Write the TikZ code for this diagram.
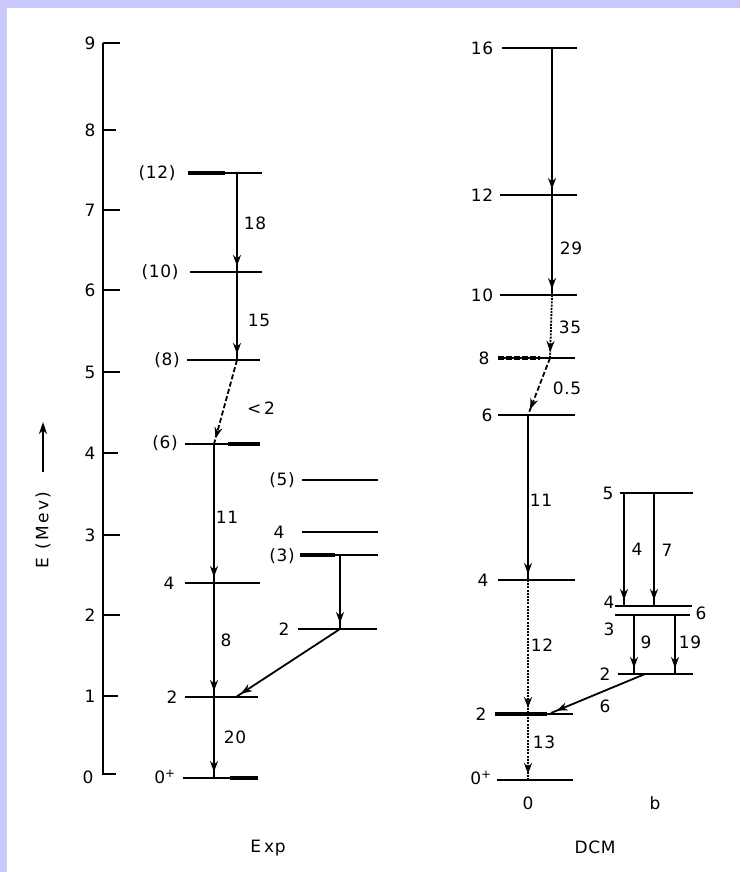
\documentclass[tikz,border=0pt]{standalone}
\usepackage{fontspec}
\setmainfont{DejaVu Sans}[LetterSpace=4]
\usetikzlibrary{arrows.meta,decorations.markings}
\definecolor{lav}{RGB}{200,200,250}
\begin{document}
\begin{tikzpicture}[x=1pt,y=-1pt,
  lvl/.style={line width=2pt},
  heavy/.style={line width=3.2pt},
  gam/.style={line width=1.8pt,
    postaction={decorate,decoration={markings,
      mark=at position -6pt with {\arrow{Stealth[length=11pt,width=8pt]}}}}},
  lab/.style={font=\fontsize{17}{17}\selectfont, inner sep=0pt},
  dotg/.style={gam, dash pattern=on 2pt off 1.2pt},
  dashg/.style={gam, dash pattern=on 5pt off 2.5pt}]
\useasboundingbox (0,0) rectangle (740,872);
\fill[lav] (0,0) rectangle (740,872);
\fill[white] (7,8) rectangle (740,872);

% ---------- energy axis ----------
\coordinate (axtop) at (103,43);
\coordinate (axbot) at (103,774);
\coordinate (axfoot) at (116,774);
\draw[line width=2.6pt] (axtop) -- (axbot) -- (axfoot);
\foreach \e/\y/\l in {9/43/120,8/130/116,7/210/120,6/290/120,5/372/120,4/453/118,3/535/120,2/615/120,1/696/118}{
  \draw[line width=2pt] (103,\y) -- (\l,\y);
  \node[lab] (tick\e) at (90,\y) {\e};
}
\node[lab] (tick0) at (88,777) {0};
\node[lab, rotate=90, font=\fontsize{17}{17}\selectfont\addfontfeatures{LetterSpace=14}] (elab) at (43,530) {E (Mev)};
\coordinate (estart) at (43,472);
\coordinate (etip) at (43,422);
\draw[line width=1.8pt, -{Stealth[length=12pt,width=8pt]}] (estart) -- (etip);

% ---------- Exp: ground band ----------
\coordinate (x12) at (237,173);
\coordinate (x10) at (237,272);
\coordinate (x8a) at (237,360);
\coordinate (x6) at (214,444);
\coordinate (x4) at (214,583);
\coordinate (x2) at (214,697);
\coordinate (x0) at (214,778);
\draw[lvl] (188,173) -- (262,173);
\draw[heavy] (188,173) -- (225,173);
\draw[lvl] (190,272) -- (262,272);
\draw[lvl] (187,360) -- (260,360);
\draw[lvl] (185,444) -- (260,444);
\draw[heavy] (228,444) -- (260,444);
\draw[lvl] (185,583) -- (260,583);
\draw[lvl] (185,697) -- (258,697);
\draw[lvl] (183,778) -- (258,778);
\draw[heavy] (230,778) -- (258,778);
\node[lab] (lx12) at (157,173) {(12)};
\node[lab] (lx10) at (160,272) {(10)};
\node[lab] (lx8) at (167,360) {(8)};
\node[lab] (lx6) at (165,443) {(6)};
\node[lab] (lx4) at (169,583) {4};
\node[lab] (lx2) at (172,697) {2};
\node[lab] (lx0) at (165,777) {0\textsuperscript{+}};
\draw[gam] (x12) -- (x10);
\draw[gam] (x10) -- (x8a);
\draw[dashg] (x8a) -- (x6);
\draw[gam] (x6) -- (x4);
\draw[gam] (x4) -- (x2);
\draw[gam] (x2) -- (x0);
\node[lab] (bx18) at (255,223) {18};
\node[lab] (bx15) at (259,320) {15};
\node[lab] (bx2) at (261,408) {<\,2};
\node[lab] (bx11) at (227,517) {11};
\node[lab] (bx8) at (226,640) {8};
\node[lab] (bx20) at (235,737) {20};

% ---------- Exp: side band ----------
\coordinate (y3) at (340,555);
\coordinate (y2) at (340,629);
\coordinate (y2x) at (236,697);
\draw[lvl] (302,480) -- (378,480);
\draw[lvl] (302,532) -- (378,532);
\draw[lvl] (300,555) -- (378,555);
\draw[heavy] (300,555) -- (335,555);
\draw[lvl] (298,629) -- (377,629);
\node[lab] (ly5) at (282,480) {(5)};
\node[lab] (ly4) at (279,532) {4};
\node[lab] (ly3) at (282,556) {(3)};
\node[lab] (ly2) at (284,629) {2};
\draw[gam] (y3) -- (y2);
\draw[gam] (y2) -- (y2x);
\node[lab] (lexp) at (268,848) {E\,xp};

% ---------- DCM: ground band ----------
\coordinate (d16) at (552,48);
\coordinate (d12) at (552,195);
\coordinate (d10) at (552,295);
\coordinate (d8) at (550,358);
\coordinate (d6) at (528,415);
\coordinate (d4) at (528,580);
\coordinate (d2) at (528,714);
\coordinate (d0) at (528,780);
\draw[lvl] (502,48) -- (577,48);
\draw[lvl] (500,195) -- (577,195);
\draw[lvl] (500,295) -- (577,295);
\draw[lvl] (498,358) -- (575,358);
\draw[heavy, dash pattern=on 6pt off 2pt] (498,358) -- (540,358);
\draw[lvl] (498,415) -- (575,415);
\draw[lvl] (498,580) -- (575,580);
\draw[lvl] (495,714) -- (573,714);
\draw[heavy] (495,714) -- (547,714);
\draw[lvl] (497,780) -- (573,780);
\node[lab] (ld16) at (482,48) {16};
\node[lab] (ld12) at (482,195) {12};
\node[lab] (ld10) at (482,295) {10};
\node[lab] (ld8) at (484,358) {8};
\node[lab] (ld6) at (487,415) {6};
\node[lab] (ld4) at (483,580) {4};
\node[lab] (ld2) at (481,714) {2};
\node[lab] (ld0) at (481,778) {0\textsuperscript{+}};
\draw[gam] (d16) -- (d12);
\draw[gam] (d12) -- (d10);
\draw[dotg] (d10) -- (d8);
\draw[dashg] (d8) -- (d6);
\draw[gam] (d6) -- (d4);
\draw[dotg] (d4) -- (d2);
\draw[dotg] (d2) -- (d0);
\node[lab] (bd29) at (571,248) {29};
\node[lab] (bd35) at (570,327) {35};
\node[lab] (bd05) at (567,388) {0.5};
\node[lab] (bd11) at (541,500) {11};
\node[lab] (bd12) at (542,645) {12};
\node[lab] (bd13) at (544,742) {13};
\node[lab] (bzero) at (528,803) {0};

% ---------- DCM: side band ----------
\coordinate (b5a) at (624,493);
\coordinate (b5b) at (654,493);
\coordinate (b4a) at (624,606);
\coordinate (b4b) at (654,606);
\coordinate (b3a) at (634,615);
\coordinate (b3b) at (675,615);
\coordinate (b2a) at (634,674);
\coordinate (b2b) at (675,674);
\coordinate (b2s) at (645,674);
\coordinate (b2d) at (551,713);
\draw[lvl] (620,493) -- (693,493);
\draw[lvl] (615,606) -- (692,606);
\draw[lvl] (615,615) -- (690,615);
\draw[lvl] (618,674) -- (693,674);
\node[lab] (lb5) at (608,493) {5};
\node[lab] (lb4) at (609,602) {4};
\node[lab] (lb3) at (609,629) {3};
\node[lab] (lb6) at (701,613) {6};
\node[lab] (lb2) at (605,674) {2};
\draw[gam] (b5a) -- (b4a);
\draw[gam] (b5b) -- (b4b);
\draw[gam] (b3a) -- (b2a);
\draw[gam] (b3b) -- (b2b);
\draw[gam] (b2s) -- (b2d);
\node[lab] (bb4) at (637,549) {4};
\node[lab] (bb7) at (667,550) {7};
\node[lab] (bb9) at (646,642) {9};
\node[lab] (bb19) at (690,642) {19};
\node[lab] (bb6) at (605,706) {6};
\node[lab] (lbb) at (655,803) {b};
\node[lab] (ldcm) at (595,847) {DCM};
\end{tikzpicture}
\end{document}
